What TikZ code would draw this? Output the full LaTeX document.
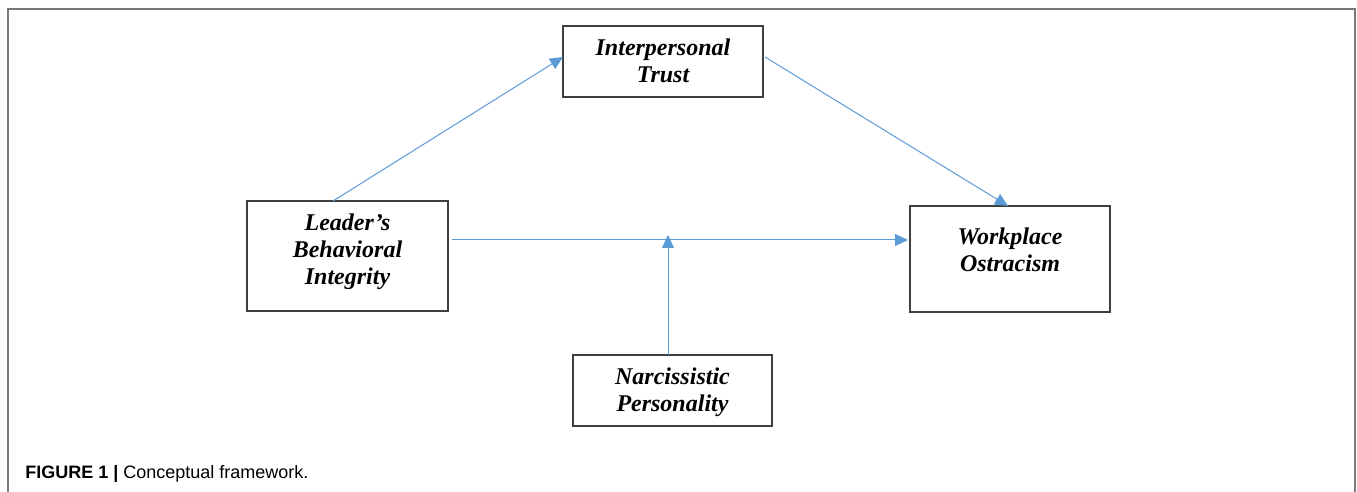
\documentclass[tikz,border=0pt]{standalone}
\usepackage{fontspec}
\setmainfont{Liberation Serif}
\newfontfamily\capfont{Liberation Sans}
\usetikzlibrary{arrows.meta}
\definecolor{arrowblue}{RGB}{91,155,213}
\definecolor{boxgray}{RGB}{64,64,64}
\definecolor{framegray}{RGB}{120,120,120}
\tikzset{
  box/.style={draw=boxgray, line width=0.7pt, inner sep=0pt, outer sep=0pt, fill=white},
  lbl/.style={align=center, font=\fontsize{12}{13.6}\selectfont\bfseries\itshape, inner sep=0pt},
  conn/.style={draw=arrowblue, line width=0.5pt, -{Triangle[length=6.5pt,width=6pt]}}
}
\begin{document}
\begin{tikzpicture}[x=0.5pt,y=-0.5pt]
\useasboundingbox (0,0) rectangle (1357,492);
% outer frame (open at the bottom)
\draw[framegray, line width=0.75pt] (8,492) -- (8,9) -- (1355,9) -- (1355,492);
% boxes
\node[box, minimum width=100pt, minimum height=35.5pt] (trust) at (663,61.5) {};
\node[box, minimum width=100.5pt, minimum height=55pt] (lead) at (347.5,256) {};
\node[box, minimum width=100pt, minimum height=53pt] (work) at (1010,259) {};
\node[box, minimum width=99.5pt, minimum height=35.5pt] (narc) at (672.5,390.5) {};
% labels
\node[lbl] (trustT) at (663,61) {Interpersonal\\Trust};
\node[lbl] (leadT) at (347.5,252) {Leader’s\\Behavioral\\Integrity};
\node[lbl] (workT) at (1010,250) {Workplace\\Ostracism};
\node[lbl] (narcT) at (672.5,392) {Narcissistic\\Personality};
% connectors
\coordinate (mod) at (668,235);
\draw[conn] ([xshift=-7.25pt]lead.north) -- ([yshift=2.25pt]trust.west);
\draw[conn] ([xshift=1pt,yshift=2.25pt]trust.east) -- ([xshift=-1pt]work.north);
\draw[conn] ([xshift=2pt,yshift=8pt]lead.east) -- ([xshift=-1pt,yshift=9.5pt]work.west);
\draw[conn] ([xshift=-2.25pt]narc.north) -- (mod);
% caption
\node[anchor=base west, inner sep=0pt, font=\capfont\fontsize{9}{11}\selectfont] (cap) at (25,478) {\textbf{FIGURE 1 |} Conceptual framework.};
\end{tikzpicture}
\end{document}
